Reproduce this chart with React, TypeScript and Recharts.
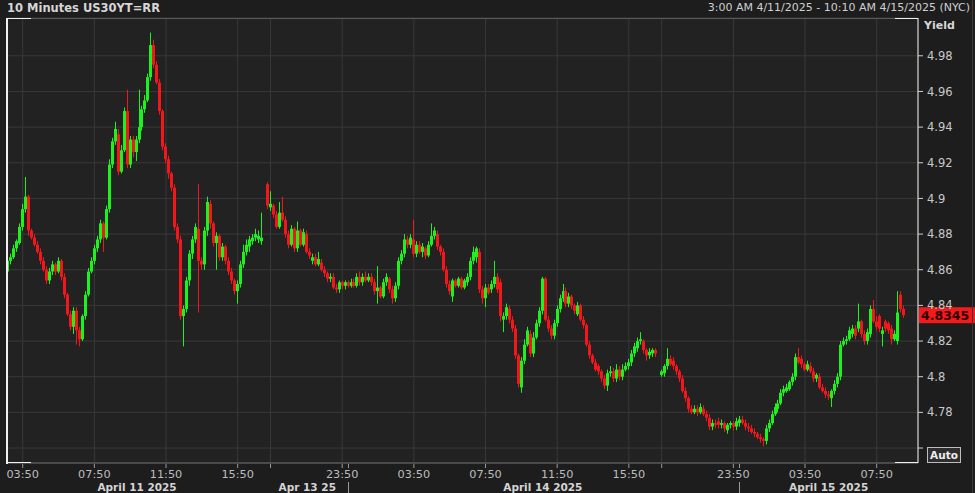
import React from 'react';
import { ComposedChart, Bar, XAxis, YAxis, CartesianGrid, ReferenceLine } from 'recharts';

// 10-minute bars, index 0 = 3:00 AM 4/11/2025 (null = no trading bar)
const openVals = [
  4.859,4.865,4.867,4.872,4.875,4.884,4.894,4.901,4.882,4.878,
  4.874,4.870,4.865,4.860,4.854,4.859,4.863,4.859,4.865,4.856,
  4.846,4.835,4.828,4.837,4.826,4.821,4.834,4.846,4.859,4.865,
  4.872,4.877,4.886,4.878,4.894,4.919,4.932,4.936,4.915,4.927,
  4.949,4.919,4.933,4.926,4.933,4.940,4.950,4.955,4.968,4.986,
  4.975,4.965,4.949,4.929,4.922,4.914,4.906,4.884,4.877,4.834,
  4.838,4.854,4.869,4.877,4.883,4.865,4.863,4.882,4.897,4.886,
  4.875,4.879,4.867,4.873,4.865,4.859,4.854,4.848,4.852,4.863,
  4.870,4.873,4.876,4.878,4.877,4.876,null,4.908,4.895,4.896,
  4.891,4.884,4.892,4.888,4.880,4.874,4.883,4.872,4.882,4.874,
  4.880,4.870,4.865,4.867,4.863,4.864,4.860,4.858,4.855,4.856,
  4.850,4.849,4.853,4.851,4.853,4.851,4.853,4.851,4.856,4.853,
  4.856,4.854,4.856,4.853,4.848,4.850,4.845,4.853,4.855,4.849,
  4.844,4.851,4.865,4.869,4.877,4.874,4.877,4.869,4.874,4.870,
  4.872,4.868,4.874,4.879,4.880,4.873,4.870,4.860,4.852,4.845,
  4.854,4.851,4.855,4.850,4.853,4.856,4.865,4.867,4.870,4.849,
  4.844,4.850,4.849,4.852,4.856,4.853,4.832,4.834,4.838,4.832,
  4.827,4.812,4.794,4.809,4.818,4.824,4.813,4.822,4.830,4.837,
  4.855,4.832,4.827,4.823,4.830,4.838,4.844,4.848,4.841,4.845,
  4.840,4.835,4.840,4.832,4.829,4.818,4.812,4.808,4.806,4.803,
  4.799,4.795,4.802,4.803,4.799,4.804,4.800,4.804,4.806,4.808,
  4.813,4.816,4.820,4.820,4.815,4.812,4.813,4.815,null,4.801,
  4.802,4.806,4.810,4.809,4.806,4.803,4.799,4.792,4.788,4.782,
  4.780,4.782,4.780,4.782,4.779,4.777,4.772,4.774,4.775,4.773,
  4.774,4.770,4.773,4.774,4.772,4.774,4.776,4.774,4.772,4.771,
  4.769,4.768,4.766,4.765,4.764,4.771,4.774,4.779,4.782,4.785,
  4.791,4.792,4.793,4.797,4.800,4.811,4.810,4.807,4.804,4.806,
  4.803,4.799,4.800,4.794,4.792,4.790,4.788,4.792,4.796,4.800,
  4.818,4.820,4.821,4.824,4.827,4.827,4.831,4.824,4.820,4.824,
  4.838,4.831,4.834,4.824,4.831,4.830,4.827,4.821,4.820,4.846,
  4.838,
];

const highVals = [
  4.869,4.869,4.874,4.877,4.886,4.897,4.912,4.902,4.883,4.880,
  4.876,4.872,4.867,4.862,4.861,4.865,4.864,4.867,4.866,4.858,
  4.847,4.837,4.839,4.839,4.828,4.835,4.848,4.861,4.867,4.874,
  4.879,4.888,4.887,4.896,4.922,4.934,4.943,4.939,4.930,4.951,
  4.961,4.935,4.935,4.935,4.961,4.952,4.958,4.970,4.993,4.989,
  4.977,4.967,4.950,4.931,4.924,4.915,4.908,4.886,4.879,4.840,
  4.856,4.871,4.879,4.886,4.908,4.867,4.884,4.901,4.899,4.887,
  4.881,4.880,4.875,4.874,4.867,4.861,4.855,4.854,4.865,4.874,
  4.877,4.879,4.880,4.883,4.882,4.892,null,4.909,4.904,4.897,
  4.893,4.898,4.901,4.890,4.882,4.885,4.884,4.887,4.883,4.883,
  4.882,4.872,4.869,4.869,4.870,4.866,4.862,4.859,4.858,4.858,
  4.852,4.854,4.854,4.854,4.854,4.855,4.855,4.858,4.859,4.858,
  4.859,4.858,4.858,4.855,4.862,4.851,4.855,4.858,4.856,4.851,
  4.853,4.867,4.871,4.880,4.879,4.880,4.888,4.876,4.876,4.875,
  4.873,4.876,4.886,4.884,4.882,4.874,4.872,4.862,4.854,4.855,
  4.855,4.856,4.856,4.855,4.858,4.867,4.873,4.873,4.872,4.851,
  4.852,4.852,4.854,4.865,4.858,4.855,4.836,4.841,4.840,4.834,
  4.829,4.813,4.811,4.821,4.828,4.826,4.825,4.832,4.839,4.856,
  4.856,4.834,4.829,4.832,4.840,4.846,4.852,4.850,4.847,4.846,
  4.841,4.842,4.841,4.834,4.830,4.820,4.813,4.810,4.807,4.804,
  4.801,4.804,4.806,4.805,4.807,4.806,4.807,4.808,4.810,4.815,
  4.819,4.822,4.825,4.821,4.816,4.816,4.816,4.816,null,4.804,
  4.807,4.816,4.812,4.811,4.807,4.804,4.801,4.794,4.789,4.784,
  4.784,4.784,4.785,4.784,4.781,4.779,4.776,4.776,4.777,4.776,
  4.775,4.774,4.775,4.775,4.777,4.778,4.778,4.776,4.774,4.773,
  4.771,4.769,4.768,4.766,4.773,4.776,4.781,4.785,4.787,4.793,
  4.795,4.796,4.798,4.802,4.813,4.816,4.812,4.808,4.809,4.808,
  4.805,4.802,4.802,4.796,4.794,4.792,4.793,4.798,4.802,4.820,
  4.822,4.823,4.828,4.829,4.829,4.841,4.832,4.826,4.827,4.840,
  4.843,4.834,4.835,4.828,4.832,4.831,4.829,4.826,4.848,4.848,
  4.840,
];

const lowVals = [
  4.855,4.863,4.866,4.870,4.874,4.882,4.892,4.879,4.877,4.873,
  4.869,4.863,4.859,4.852,4.852,4.857,4.857,4.858,4.854,4.844,
  4.834,4.826,4.824,4.818,4.817,4.820,4.832,4.845,4.858,4.863,
  4.870,4.875,4.870,4.877,4.892,4.917,4.930,4.913,4.914,4.926,
  4.917,4.917,4.923,4.921,4.931,4.938,4.948,4.954,4.966,4.973,
  4.964,4.947,4.927,4.920,4.911,4.904,4.882,4.875,4.832,4.817,
  4.836,4.851,4.866,4.875,4.836,4.860,4.860,4.879,4.883,4.873,
  4.860,4.865,4.865,4.863,4.857,4.852,4.846,4.841,4.850,4.861,
  4.868,4.870,4.874,4.876,4.875,4.874,null,4.894,4.893,4.889,
  4.883,4.883,4.887,4.878,4.872,4.873,4.870,4.870,4.873,4.873,
  4.869,4.866,4.863,4.862,4.862,4.859,4.856,4.853,4.853,4.849,
  4.847,4.847,4.849,4.849,4.850,4.850,4.850,4.850,4.851,4.851,
  4.853,4.853,4.851,4.846,4.841,4.844,4.844,4.851,4.847,4.841,
  4.842,4.849,4.863,4.867,4.872,4.872,4.867,4.867,4.869,4.867,
  4.866,4.867,4.873,4.877,4.871,4.868,4.859,4.850,4.846,4.842,
  4.850,4.850,4.849,4.849,4.851,4.854,4.863,4.864,4.847,4.841,
  4.839,4.846,4.847,4.850,4.847,4.831,4.825,4.832,4.830,4.825,
  4.810,4.794,4.791,4.807,4.817,4.811,4.811,4.821,4.828,4.835,
  4.831,4.825,4.821,4.821,4.828,4.836,4.842,4.839,4.839,4.838,
  4.835,4.834,4.831,4.827,4.817,4.810,4.807,4.803,4.801,4.797,
  4.793,4.792,4.800,4.797,4.797,4.798,4.798,4.803,4.804,4.806,
  4.811,4.814,4.818,4.813,4.809,4.810,4.811,4.811,null,4.800,
  4.800,4.804,4.806,4.804,4.801,4.797,4.791,4.786,4.780,4.779,
  4.779,4.778,4.779,4.778,4.775,4.770,4.770,4.771,4.771,4.771,
  4.769,4.768,4.771,4.770,4.770,4.772,4.773,4.770,4.769,4.768,
  4.766,4.765,4.763,4.761,4.762,4.769,4.773,4.778,4.780,4.784,
  4.789,4.791,4.792,4.795,4.798,4.807,4.805,4.803,4.803,4.802,
  4.797,4.797,4.793,4.791,4.788,4.787,4.783,4.790,4.794,4.798,
  4.817,4.818,4.820,4.822,4.821,4.825,4.822,4.818,4.818,4.822,
  4.830,4.826,4.825,4.817,4.825,4.824,4.818,4.820,4.818,4.836,
  4.833,
];

const closeVals = [
  4.865,4.867,4.872,4.876,4.884,4.894,4.901,4.882,4.878,4.874,
  4.870,4.865,4.860,4.854,4.859,4.863,4.859,4.865,4.856,4.846,
  4.835,4.828,4.837,4.826,4.821,4.834,4.846,4.859,4.865,4.872,
  4.877,4.886,4.878,4.894,4.919,4.932,4.939,4.915,4.927,4.949,
  4.919,4.933,4.926,4.933,4.940,4.950,4.955,4.968,4.986,4.975,
  4.965,4.949,4.929,4.922,4.914,4.906,4.884,4.877,4.834,4.838,
  4.854,4.869,4.877,4.884,4.865,4.863,4.882,4.898,4.886,4.875,
  4.879,4.867,4.873,4.865,4.859,4.854,4.848,4.852,4.863,4.870,
  4.874,4.877,4.878,4.880,4.879,4.878,null,4.896,4.897,4.891,
  4.884,4.892,4.888,4.880,4.874,4.883,4.872,4.882,4.874,4.881,
  4.870,4.868,4.867,4.863,4.866,4.860,4.858,4.855,4.856,4.850,
  4.849,4.853,4.851,4.853,4.851,4.853,4.851,4.856,4.853,4.856,
  4.854,4.856,4.853,4.848,4.850,4.845,4.853,4.856,4.849,4.844,
  4.851,4.865,4.869,4.877,4.874,4.878,4.869,4.874,4.870,4.873,
  4.868,4.874,4.879,4.882,4.873,4.870,4.860,4.852,4.848,4.854,
  4.851,4.855,4.850,4.854,4.856,4.865,4.870,4.872,4.849,4.844,
  4.850,4.847,4.852,4.856,4.849,4.834,4.834,4.839,4.832,4.827,
  4.812,4.796,4.809,4.818,4.826,4.813,4.822,4.830,4.837,4.855,
  4.832,4.827,4.823,4.830,4.838,4.844,4.848,4.841,4.845,4.840,
  4.837,4.840,4.832,4.829,4.818,4.812,4.808,4.804,4.803,4.799,
  4.795,4.802,4.803,4.799,4.804,4.800,4.804,4.806,4.808,4.813,
  4.817,4.820,4.821,4.815,4.812,4.814,4.815,4.813,null,4.803,
  4.806,4.810,4.807,4.806,4.803,4.799,4.792,4.788,4.782,4.780,
  4.782,4.780,4.783,4.779,4.777,4.772,4.774,4.773,4.773,4.774,
  4.771,4.773,4.774,4.772,4.775,4.776,4.774,4.772,4.771,4.769,
  4.768,4.766,4.765,4.764,4.771,4.774,4.779,4.783,4.785,4.791,
  4.793,4.794,4.797,4.800,4.811,4.808,4.807,4.804,4.807,4.803,
  4.799,4.801,4.794,4.792,4.790,4.789,4.792,4.796,4.800,4.818,
  4.820,4.821,4.826,4.827,4.823,4.831,4.824,4.820,4.825,4.838,
  4.831,4.828,4.827,4.826,4.827,4.826,4.821,4.824,4.836,4.838,
  4.8345,
];

const timeTicks = [5, 29, 53, 77, 88, 112, 136, 160, 184, 208, 219, 243, 267, 291];
const timeLabels = ['03:50', '07:50', '11:50', '15:50', '', '23:50', '03:50', '07:50', '11:50', '15:50', '', '23:50', '03:50', '07:50'];
const dateTicks = [43.3, 100.3, 179.2, 274.9];
const dateLabels = ['April 11 2025', 'Apr 13 25', 'April 14 2025', 'April 15 2025'];
const daySeparators = [113.9, 245];
const yTicks = [4.76, 4.78, 4.8, 4.82, 4.84, 4.86, 4.88, 4.9, 4.92, 4.94, 4.96, 4.98];
const hiddenYLabel = 4.76; // covered by the "Auto" button in the original
const lastValue = 4.8345;
const titleText = '10 Minutes US30YT=RR';
const rangeText = '3:00 AM 4/11/2025 - 10:10 AM 4/15/2025 (NYC)';

const data = openVals
  .map((o, i) => ({ i, open: o, high: highVals[i], low: lowVals[i], close: closeVals[i] }))
  .filter((d) => d.open != null);

const UP = '#1cf21c';
const DOWN = '#f5161b';
const FONT = 'DejaVu Sans, Verdana, sans-serif';

const Candle = (props: any) => {
  const { x, y, width, height, payload } = props;
  if (!payload || x == null || y == null) return null;
  const { open, close, high, low } = payload;
  const top = Math.min(y, y + height);
  const h = Math.abs(height);
  const span = high - low;
  const toY = (v: number) => (span === 0 ? top : top + ((high - v) / span) * h);
  const up = close >= open;
  const color = up ? UP : DOWN;
  const cx = x + width / 2;
  const wx = Math.round(cx - 0.5) + 0.5;
  const bTop = toY(Math.max(open, close));
  const bBot = toY(Math.min(open, close));
  return (
    <g>
      <line x1={wx} x2={wx} y1={top} y2={top + h} stroke={color} strokeWidth={1} />
      <rect x={wx - 1.5} y={bTop} width={3} height={Math.max(1.2, bBot - bTop)} fill={color} />
    </g>
  );
};

const TimeTick = (props: any) => {
  const { x, payload } = props;
  const idx = timeTicks.indexOf(payload.value);
  const label = idx >= 0 ? timeLabels[idx] : '';
  return (
    <g>
      <line x1={x} x2={x} y1={464} y2={468} stroke="#9a9a9a" strokeWidth={1} />
      <text x={x} y={477.5} textAnchor="middle" fill="#bdbdbd" fontSize={11.3} fontFamily={FONT}>
        {label}
      </text>
    </g>
  );
};

const DateLabel = (text: string) => (p: any) => {
  const vb = p.viewBox;
  if (!vb) return null;
  return (
    <text x={vb.x} y={490.5} textAnchor="middle" fill="#d4d4d4" fontSize={10.5} fontWeight="bold" fontFamily={FONT}>
      {text}
    </text>
  );
};

const SeparatorMark = (p: any) => {
  const vb = p.viewBox;
  if (!vb) return null;
  const x = Math.round(vb.x) + 0.5;
  return (
    <g>
      <line x1={x} x2={x} y1={464} y2={468} stroke="#9a9a9a" strokeWidth={1} />
      <line x1={x} x2={x} y1={482} y2={493} stroke="#9a9a9a" strokeWidth={1} />
    </g>
  );
};

const PriceTag = (props: any) => {
  const vb = props.viewBox;
  if (!vb) return null;
  const left = vb.x + vb.width + 1;
  return (
    <g>
      <rect x={left} y={vb.y - 8} width={60} height={16} fill="#f21a1a" />
      <text x={left + 2} y={vb.y + 5} fill="#300000" fontSize={12.5} fontWeight="bold" fontFamily={FONT}>
        {String(lastValue)}
      </text>
    </g>
  );
};

const abs = (l: number, t: number, w: number, h: number, bg: string): React.CSSProperties => ({
  position: 'absolute', left: l, top: t, width: w, height: h, background: bg,
});

export default function App() {
  return (
    <div style={{ position: 'absolute', left: 0, top: 0, width: 975, height: 493, background: '#1d1d1d', overflow: 'hidden', fontFamily: FONT }}>
      <style>{'body{margin:0;background:#1d1d1d}'}</style>
      <ComposedChart width={975} height={493} data={data} margin={{ top: 18, right: 0, bottom: 0, left: 7 }}>
        <CartesianGrid stroke="#393939" fill="#222222" />
        <XAxis
          dataKey="i"
          type="number"
          domain={[-0.26, 304.84]}
          allowDataOverflow
          ticks={timeTicks}
          interval={0}
          height={30}
          axisLine={{ stroke: '#6a6a6a' }}
          tickLine={false}
          tick={<TimeTick />}
        />
        <YAxis
          orientation="right"
          width={57}
          domain={[4.7516, 5.0012]}
          allowDataOverflow
          ticks={yTicks}
          interval={0}
          tickSize={5}
          tickMargin={4}
          axisLine={{ stroke: '#f0f0f0' }}
          tickLine={{ stroke: '#cfcfcf' }}
          tick={{ fill: '#c8c8c8', fontSize: 11.5, fontFamily: FONT }}
          tickFormatter={(v: number) => (v === hiddenYLabel ? '' : String(Math.round(v * 100) / 100))}
        />
        <Bar
          dataKey={(d: any) => [d.low, d.high]}
          barSize={3}
          shape={<Candle />}
          isAnimationActive={false}
        />
        {dateTicks.map((v, k) => (
          <ReferenceLine key={'d' + k} x={v} stroke="none" label={DateLabel(dateLabels[k])} />
        ))}
        {daySeparators.map((v, k) => (
          <ReferenceLine key={'s' + k} x={v} stroke="none" label={SeparatorMark} />
        ))}
        <ReferenceLine y={lastValue} stroke="none" label={(p: any) => <PriceTag {...p} />} />
      </ComposedChart>

      {/* header */}
      <div style={{ position: 'absolute', left: 7, top: 1, color: '#d6d6d6', fontSize: 11.5, fontWeight: 'bold', whiteSpace: 'nowrap' }}>{titleText}</div>
      <div style={{ position: 'absolute', right: 5, top: 1, color: '#cfcfcf', fontSize: 11, whiteSpace: 'nowrap' }}>{rangeText}</div>
      <div style={{ position: 'absolute', left: 924, top: 19, color: '#d6d6d6', fontSize: 11, fontWeight: 'bold' }}>Yield</div>

      {/* frame */}
      <div style={abs(7, 18, 911, 1, '#5a5a5a')} />
      <div style={abs(6, 18, 2, 446, '#f0f0f0')} />
      <div style={abs(7, 18, 24, 1, '#f0f0f0')} />
      <div style={abs(895, 18, 23, 1, '#f0f0f0')} />
      <div style={abs(7, 462, 24, 1, '#f0f0f0')} />
      <div style={abs(895, 462, 23, 1, '#f0f0f0')} />
      <div style={abs(972, 0, 1, 493, '#3a3a3a')} />

      {/* Auto button */}
      <div style={{ position: 'absolute', left: 927, top: 447, width: 32, height: 14, border: '1px solid #bdbdbd', background: '#2e2e2e', color: '#eeeeee', fontSize: 10.5, fontWeight: 'bold', lineHeight: '14px', textAlign: 'center' }}>Auto</div>
    </div>
  );
}
